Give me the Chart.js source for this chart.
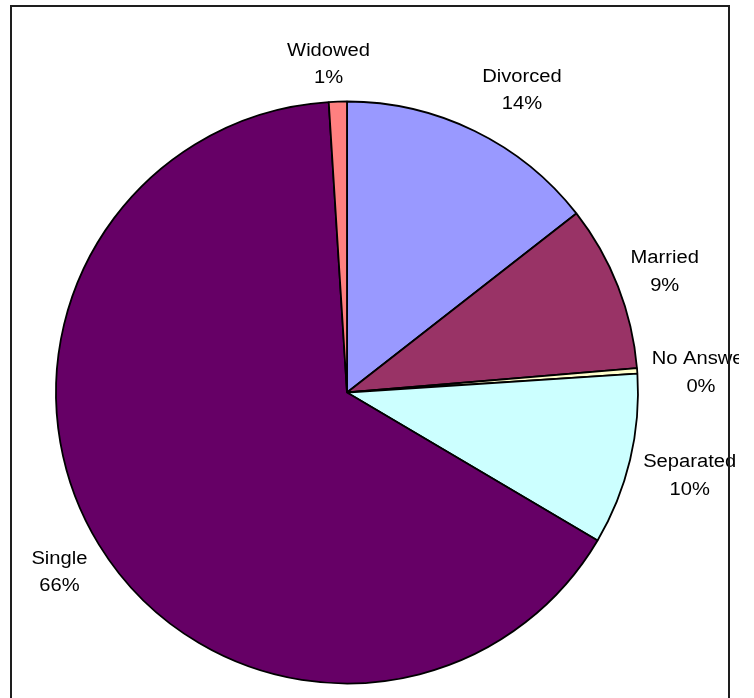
<!DOCTYPE html>
<html>
<head>
<meta charset="utf-8">
<script src="https://cdn.jsdelivr.net/npm/chart.js@4/dist/chart.umd.min.js"></script>
<style>
  html, body { margin: 0; padding: 0; background: #fff; }
  canvas { display: block; }
</style>
</head>
<body>
<canvas id="c" width="754" height="698"></canvas>
<script>
// Marital status of respondents, share of total (%), clockwise from 12 o'clock
const categories = ['Divorced', 'Married', 'No Answer', 'Separated', 'Single', 'Widowed'];
const shares = [14.45, 9.22, 0.3, 9.52, 65.51, 1.0];
const sliceColours = ['#9999FF', '#993366', '#FFFFCC', '#CCFFFF', '#660066', '#FF8080'];

// Drawing settings
const FRAME = { left: 11, top: 6, right: 729, bottom: 720 };
const LABEL_CLIP_RIGHT = 739;
const LABEL_FONT = '18px "Liberation Sans", Arial, sans-serif';
const STRETCH = 1.12;      // labels are set slightly wide
const LINE_GAP = 27.5;     // distance between the two label lines
const LABEL_GAP = 13.5;    // clearance between pie edge and label box
const labelNudge = { 'Divorced': [28, -4.5], 'Widowed': [-8, 0], 'No Answer': [1, 3], 'Separated': [0, -2] };

// Two-line "name / percent" labels placed just outside each slice
const outsideLabels = {
  id: 'outsideLabels',
  afterDatasetsDraw(chart) {
    const ctx = chart.ctx;
    const meta = chart.getDatasetMeta(0);
    const data = chart.data.datasets[0].data;
    const total = data.reduce((a, b) => a + b, 0);
    ctx.save();
    ctx.beginPath();
    ctx.rect(FRAME.left + 1, FRAME.top + 1, LABEL_CLIP_RIGHT - FRAME.left - 1, FRAME.bottom - FRAME.top);
    ctx.clip();
    ctx.font = LABEL_FONT;
    ctx.fillStyle = '#000';
    ctx.textAlign = 'center';
    ctx.textBaseline = 'alphabetic';
    meta.data.forEach((arc, i) => {
      const p = arc.getProps(['x', 'y', 'startAngle', 'endAngle', 'outerRadius'], true);
      const mid = (p.startAngle + p.endAngle) / 2;
      const dx = Math.cos(mid), dy = Math.sin(mid);
      const lines = [chart.data.labels[i], Math.round(data[i] / total * 100) + '%'];
      const w = Math.max(...lines.map(s => ctx.measureText(s).width)) * STRETCH;
      const h = LINE_GAP * 2;
      const tx = Math.abs(dx) > 1e-6 ? (w / 2) / Math.abs(dx) : Infinity;
      const ty = Math.abs(dy) > 1e-6 ? (h / 2) / Math.abs(dy) : Infinity;
      const d = p.outerRadius + LABEL_GAP + Math.min(tx, ty);
      const n = labelNudge[chart.data.labels[i]] || [0, 0];
      const cx = p.x + dx * d + n[0];
      const cy = p.y + dy * d + n[1];
      lines.forEach((s, k) => {
        const base = cy + (k - 0.5) * LINE_GAP + 8.8;
        ctx.save();
        ctx.translate(cx, base);
        ctx.scale(STRETCH, 1);
        ctx.fillText(s, 0, 0);
        ctx.restore();
      });
    });
    ctx.restore();
  }
};

// Thin dark frame around the chart
const chartFrame = {
  id: 'chartFrame',
  afterDraw(chart) {
    const ctx = chart.ctx;
    ctx.save();
    ctx.strokeStyle = '#1e1e1e';
    ctx.lineWidth = 2;
    ctx.strokeRect(FRAME.left, FRAME.top, FRAME.right - FRAME.left, FRAME.bottom - FRAME.top);
    ctx.restore();
  }
};

new Chart(document.getElementById('c'), {
  type: 'pie',
  data: {
    labels: categories,
    datasets: [{
      data: shares,
      backgroundColor: sliceColours,
      borderColor: '#000',
      borderWidth: 1.8
    }]
  },
  options: {
    responsive: false,
    animation: false,
    rotation: 0,
    radius: 291,
    layout: { padding: { left: 0, right: 60, top: 87, bottom: 0 } },
    plugins: {
      legend: { display: false },
      tooltip: { enabled: false }
    }
  },
  plugins: [outsideLabels, chartFrame]
});
</script>
</body>
</html>
